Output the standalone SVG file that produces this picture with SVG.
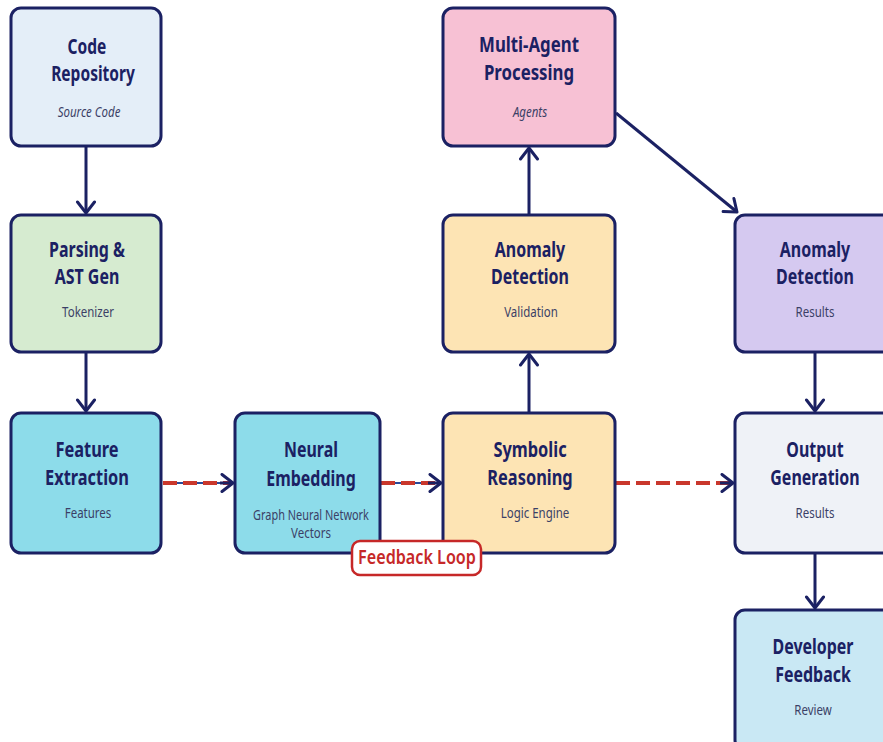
<svg xmlns="http://www.w3.org/2000/svg" width="883" height="742" viewBox="0 0 883 742">
<style>
.box{stroke:#1b2163;stroke-width:3}
.t{font-family:"Noto Sans","DejaVu Sans",sans-serif;font-weight:bold;font-size:21px;fill:#1b2163;text-anchor:middle}
.s{font-family:"Noto Sans","DejaVu Sans",sans-serif;font-size:14px;fill:#3b3f66;text-anchor:middle}
.i{font-style:italic}
.c{stroke:#1b2163;stroke-width:3;fill:none}
.d{stroke:#c9372c;stroke-width:4;stroke-dasharray:14 6;fill:none}
.u{stroke:#2a4a9a;stroke-width:2;fill:none}
</style>
<defs>
<marker id="ah" markerUnits="userSpaceOnUse" markerWidth="18" markerHeight="22" refX="13" refY="10" orient="auto">
<path d="M2,1.5 L13,10 L2,18.5" fill="none" stroke="#1b2163" stroke-width="3" stroke-linecap="round" stroke-linejoin="round"/>
</marker>
</defs>
<rect width="883" height="742" fill="#ffffff"/>
<g id="connectors">
<line class="c" x1="86" y1="147" x2="86" y2="213" marker-end="url(#ah)"/>
<line class="c" x1="86" y1="353" x2="86" y2="411" marker-end="url(#ah)"/>
<line class="u" x1="163" y1="483" x2="232" y2="483"/>
<line class="d" x1="163" y1="483" x2="232" y2="483"/>
<line class="c" x1="220" y1="483" x2="233" y2="483" marker-end="url(#ah)"/>
<line class="u" x1="381" y1="483" x2="440" y2="483"/>
<line class="d" x1="381" y1="483" x2="440" y2="483"/>
<line class="c" x1="428" y1="483" x2="441" y2="483" marker-end="url(#ah)"/>
<line class="d" x1="616" y1="483" x2="732" y2="483"/>
<line class="c" x1="720" y1="483" x2="733" y2="483" marker-end="url(#ah)"/>
<line class="c" x1="529" y1="412" x2="529" y2="354" marker-end="url(#ah)"/>
<line class="c" x1="529" y1="214" x2="529" y2="148" marker-end="url(#ah)"/>
<line class="c" x1="616" y1="113" x2="737" y2="212" marker-end="url(#ah)"/>
<line class="c" x1="815" y1="353" x2="815" y2="411" marker-end="url(#ah)"/>
<line class="c" x1="815" y1="554" x2="815" y2="608" marker-end="url(#ah)"/>
</g>
<g id="code-repository">
<rect class="box" x="11" y="8" width="150" height="138" rx="10" fill="#e4eef8"/>
<text class="t" x="0" y="54" transform="matrix(0.74,0,0,1,87,0)">Code</text>
<text class="t" x="0" y="81" transform="matrix(0.74,0,0,1,93,0)">Repository</text>
<text class="s i" x="0" y="117" transform="matrix(0.82,0,0,1,89,0)">Source Code</text>
</g>
<g id="parsing">
<rect class="box" x="11" y="215" width="150" height="137" rx="10" fill="#d6ebd0"/>
<text class="t" x="0" y="257" transform="matrix(0.76,0,0,1,87,0)">Parsing &amp;</text>
<text class="t" x="0" y="284" transform="matrix(0.76,0,0,1,87,0)">AST Gen</text>
<text class="s" x="0" y="317" transform="matrix(0.82,0,0,1,88,0)">Tokenizer</text>
</g>
<g id="feature-extraction">
<rect class="box" x="11" y="413" width="150" height="140" rx="10" fill="#8ddcea"/>
<text class="t" x="0" y="457" transform="matrix(0.78,0,0,1,87,0)">Feature</text>
<text class="t" x="0" y="485" transform="matrix(0.78,0,0,1,87,0)">Extraction</text>
<text class="s" x="0" y="518" transform="matrix(0.82,0,0,1,88,0)">Features</text>
</g>
<g id="neural-embedding">
<rect class="box" x="235" y="413" width="145" height="140" rx="10" fill="#8ddcea"/>
<text class="t" x="0" y="457" transform="matrix(0.76,0,0,1,311,0)">Neural</text>
<text class="t" x="0" y="486" transform="matrix(0.76,0,0,1,311,0)">Embedding</text>
<text class="s" x="0" y="520" transform="matrix(0.78,0,0,1,311,0)">Graph Neural Network</text>
<text class="s" x="0" y="538" transform="matrix(0.82,0,0,1,311,0)">Vectors</text>
</g>
<g id="symbolic-reasoning">
<rect class="box" x="443" y="413" width="172" height="140" rx="10" fill="#fde4b4"/>
<text class="t" x="0" y="457" transform="matrix(0.78,0,0,1,530,0)">Symbolic</text>
<text class="t" x="0" y="485" transform="matrix(0.78,0,0,1,530,0)">Reasoning</text>
<text class="s" x="0" y="518" transform="matrix(0.82,0,0,1,535,0)">Logic Engine</text>
</g>
<g id="anomaly-validation">
<rect class="box" x="443" y="215" width="172" height="137" rx="10" fill="#fde4b4"/>
<text class="t" x="0" y="257" transform="matrix(0.76,0,0,1,530,0)">Anomaly</text>
<text class="t" x="0" y="284" transform="matrix(0.76,0,0,1,530,0)">Detection</text>
<text class="s" x="0" y="317" transform="matrix(0.82,0,0,1,531,0)">Validation</text>
</g>
<g id="multi-agent">
<rect class="box" x="443" y="8" width="172" height="138" rx="10" fill="#f7c1d4"/>
<text class="t" x="0" y="52" transform="matrix(0.8,0,0,1,529,0)">Multi-Agent</text>
<text class="t" x="0" y="80" transform="matrix(0.8,0,0,1,529,0)">Processing</text>
<text class="s i" x="0" y="117" transform="matrix(0.82,0,0,1,530,0)">Agents</text>
</g>
<g id="anomaly-results">
<rect class="box" x="735" y="215" width="160" height="137" rx="10" fill="#d5c9f0"/>
<text class="t" x="0" y="257" transform="matrix(0.76,0,0,1,815,0)">Anomaly</text>
<text class="t" x="0" y="284" transform="matrix(0.76,0,0,1,815,0)">Detection</text>
<text class="s" x="0" y="317" transform="matrix(0.82,0,0,1,815,0)">Results</text>
</g>
<g id="output-generation">
<rect class="box" x="735" y="413" width="160" height="140" rx="10" fill="#eff2f7"/>
<text class="t" x="0" y="457" transform="matrix(0.76,0,0,1,815,0)">Output</text>
<text class="t" x="0" y="485" transform="matrix(0.76,0,0,1,815,0)">Generation</text>
<text class="s" x="0" y="518" transform="matrix(0.82,0,0,1,815,0)">Results</text>
</g>
<g id="developer-feedback">
<rect class="box" x="735" y="610" width="160" height="140" rx="10" fill="#c9e8f4"/>
<text class="t" x="0" y="654" transform="matrix(0.76,0,0,1,813,0)">Developer</text>
<text class="t" x="0" y="682" transform="matrix(0.76,0,0,1,813,0)">Feedback</text>
<text class="s" x="0" y="715" transform="matrix(0.82,0,0,1,813,0)">Review</text>
</g>
<g id="feedback-loop-label">
<rect x="352" y="541" width="129" height="34" rx="8" fill="#ffffff" stroke="#c62828" stroke-width="2.5"/>
<text x="0" y="564" transform="matrix(0.85,0,0,1,417,0)" font-family="Noto Sans,DejaVu Sans,sans-serif" font-weight="600" font-size="19" fill="#c62828" text-anchor="middle">Feedback Loop</text>
</g>
</svg>
